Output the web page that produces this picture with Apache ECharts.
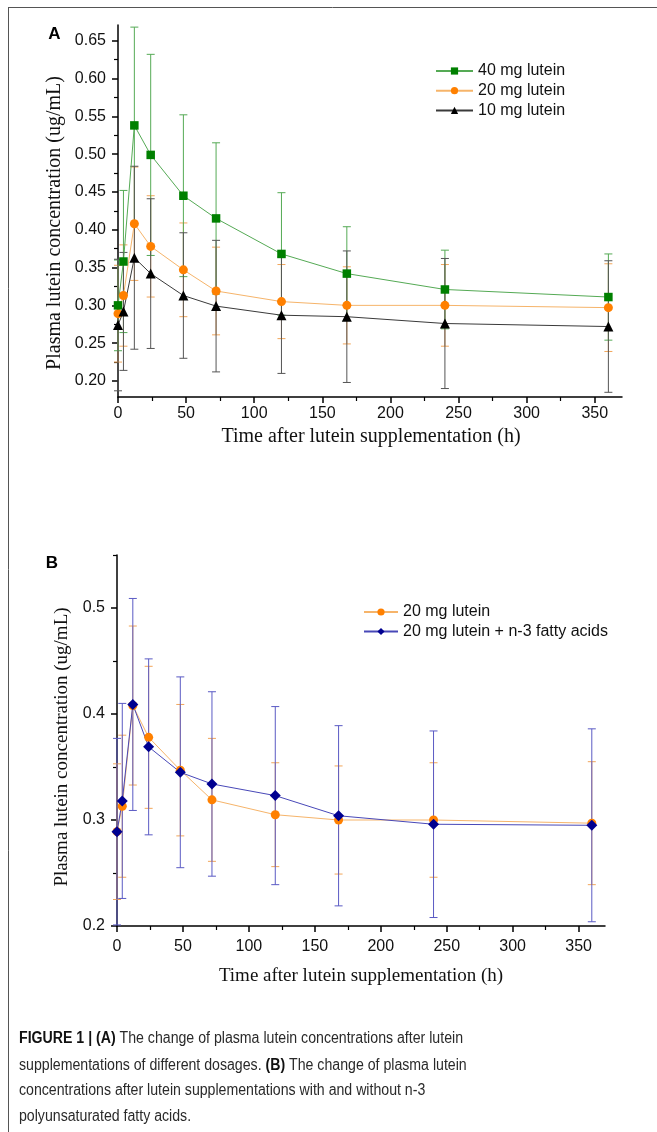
<!DOCTYPE html>
<html>
<head>
<meta charset="utf-8">
<script src="https://cdn.jsdelivr.net/npm/echarts@6/dist/echarts.min.js"></script>
<style>
html,body{margin:0;padding:0;background:#fff;}
#chart{width:657px;height:1132px;}
</style>
</head>
<body>
<div id="chart"></div>
<script>
// ---------- data ----------
var hours = [0, 4, 12, 24, 48, 72, 120, 168, 240, 360];

var lutein40 = [0.300, 0.358, 0.538, 0.499, 0.445, 0.415, 0.368, 0.342, 0.321, 0.311];
var lutein40Err = [0.060, 0.094, 0.130, 0.133, 0.107, 0.100, 0.081, 0.062, 0.052, 0.057];

var lutein20 = [0.289, 0.313, 0.408, 0.378, 0.347, 0.319, 0.305, 0.300, 0.300, 0.297];
var lutein20Err = [0.064, 0.067, 0.075, 0.067, 0.062, 0.058, 0.049, 0.051, 0.054, 0.058];

var lutein10 = [0.274, 0.292, 0.363, 0.342, 0.313, 0.299, 0.287, 0.285, 0.276, 0.272];
var lutein10Err = [0.087, 0.078, 0.121, 0.099, 0.083, 0.087, 0.077, 0.087, 0.086, 0.087];

var luteinN3 = [0.289, 0.318, 0.409, 0.369, 0.345, 0.334, 0.323, 0.304, 0.296, 0.295];
var luteinN3ErrUp = [0.088, 0.092, 0.100, 0.083, 0.090, 0.087, 0.084, 0.085, 0.088, 0.091];
var luteinN3ErrDown = [0.088, 0.092, 0.100, 0.083, 0.090, 0.087, 0.084, 0.085, 0.088, 0.091];

var xTicks = [0, 50, 100, 150, 200, 250, 300, 350];
var xMinorTicks = [25, 75, 125, 175, 225, 275, 325];
var yTicksA = [0.20, 0.25, 0.30, 0.35, 0.40, 0.45, 0.50, 0.55, 0.60, 0.65];
var yMinorTicksA = [0.225, 0.275, 0.325, 0.375, 0.425, 0.475, 0.525, 0.575, 0.625];
var yTicksB = [0.2, 0.3, 0.4, 0.5];
var yMinorTicksB = [0.25, 0.35, 0.45, 0.55];

var nameA = ['40 mg lutein', '20 mg lutein', '10 mg lutein'];
var nameB = ['20 mg lutein', '20 mg lutein + n-3 fatty acids'];
var yTitle = 'Plasma lutein concentration (ug/mL)';
var xTitle = 'Time after lutein supplementation (h)';
var captionLines = [
  '{b|FIGURE 1 | (A)} The change of plasma lutein concentrations after lutein',
  'supplementations of different dosages. {b|(B)} The change of plasma lutein',
  'concentrations after lutein supplementations with and without n-3',
  'polyunsaturated fatty acids.'
];

// ---------- helpers ----------
var SANS = '"Liberation Sans", Arial, sans-serif';
var SERIF = '"Liberation Serif", "Times New Roman", serif';

function pts(vals) { return hours.map(function (h, i) { return [h, vals[i]]; }); }
function errPts(vals, up, down) {
  return hours.map(function (h, i) { return [h, vals[i] - down[i], vals[i] + up[i]]; });
}
function errRender(color) {
  return function (params, api) {
    var x = api.value(0), lo = api.value(1), hi = api.value(2);
    var p1 = api.coord([x, hi]), p2 = api.coord([x, lo]);
    var w = 4;
    var st = { stroke: color, lineWidth: 1 };
    return {
      type: 'group',
      children: [
        { type: 'line', shape: { x1: p1[0], y1: p1[1], x2: p2[0], y2: p2[1] }, style: st },
        { type: 'line', shape: { x1: p1[0] - w, y1: p1[1], x2: p1[0] + w, y2: p1[1] }, style: st },
        { type: 'line', shape: { x1: p2[0] - w, y1: p2[1], x2: p2[0] + w, y2: p2[1] }, style: st }
      ]
    };
  };
}
function errSeries(data, color, xi, yi) {
  return {
    type: 'custom', xAxisIndex: xi, yAxisIndex: yi, data: data,
    encode: { x: 0, y: [1, 2] }, renderItem: errRender(color), clip: false, silent: true, z: 1
  };
}
function lineSeries(name, vals, lineColor, markColor, symbol, size, xi, yi) {
  return {
    type: 'line', name: name, xAxisIndex: xi, yAxisIndex: yi, data: pts(vals),
    symbol: symbol, symbolSize: size, showAllSymbol: true,
    lineStyle: { color: lineColor, width: 1 },
    itemStyle: { color: markColor, borderWidth: 0 },
    emphasis: { disabled: true }, animation: false, z: 3
  };
}
function majorX(grid, margin) {
  return {
    type: 'value', gridIndex: grid, min: 0, max: 370, position: 'bottom',
    axisLine: { onZero: false, lineStyle: { color: '#000', width: 1.5 } },
    axisTick: { customValues: xTicks, length: 6, lineStyle: { color: '#000', width: 1.5 } },
    axisLabel: { customValues: xTicks, margin: margin, fontSize: 16, color: '#111', fontFamily: SANS },
    splitLine: { show: false }
  };
}
function minorX(grid) {
  return {
    type: 'value', gridIndex: grid, min: 0, max: 370, position: 'bottom',
    axisLine: { show: false, onZero: false },
    axisTick: { customValues: xMinorTicks, length: 4, lineStyle: { color: '#000', width: 1.2 } },
    axisLabel: { show: false }, splitLine: { show: false }
  };
}
function majorY(grid, min, max, ticks, dec) {
  return {
    type: 'value', gridIndex: grid, min: min, max: max, position: 'left',
    axisLine: { show: true, onZero: false, lineStyle: { color: '#000', width: 1.5 } },
    axisTick: { show: true, customValues: ticks, length: 6, lineStyle: { color: '#000', width: 1.5 } },
    axisLabel: {
      customValues: ticks, margin: 12, fontSize: 16, color: '#111', fontFamily: SANS,
      formatter: function (v) { return v.toFixed(dec); }
    },
    splitLine: { show: false }
  };
}
function minorY(grid, min, max, ticks) {
  return {
    type: 'value', gridIndex: grid, min: min, max: max, position: 'left',
    axisLine: { show: false, onZero: false },
    axisTick: { show: true, customValues: ticks, length: 4, lineStyle: { color: '#000', width: 1.2 } },
    axisLabel: { show: false }, splitLine: { show: false }
  };
}

var GREEN_L = '#55aa55', GREEN_M = '#008000';
var ORANGE_L = '#f6b46a', ORANGE_M = '#ff8000', ORANGE_E = '#f2a65a';
var BLACK_L = '#3a3a3a', BLACK_M = '#000000', BLACK_E = '#555555';
var BLUE_L = '#4848b8', BLUE_M = '#000090', BLUE_E = '#5a5ac4';

var chart = echarts.init(document.getElementById('chart'), null, { renderer: 'canvas' });

var option = {
  animation: false,
  backgroundColor: '#fff',
  grid: [
    { left: 118, top: 25, width: 504, height: 372 },
    { left: 117, top: 555, width: 488, height: 371 }
  ],
  xAxis: [majorX(0, 9), minorX(0), majorX(1, 13), minorX(1)],
  yAxis: [
    majorY(0, 0.1788, 0.6708, yTicksA, 2), minorY(0, 0.1788, 0.6708, yMinorTicksA),
    majorY(1, 0.2, 0.55, yTicksB, 1), minorY(1, 0.2, 0.55, yMinorTicksB)
  ],
  legend: [
    {
      orient: 'vertical', left: 435, top: 63, padding: 0, itemWidth: 37, itemHeight: 9, itemGap: 3.7,
      textStyle: { fontSize: 16, color: '#111', fontFamily: SANS },
      data: nameA, selectedMode: false
    },
    {
      orient: 'vertical', left: 363, top: 604, padding: 0, itemWidth: 34, itemHeight: 9, itemGap: 3.5,
      textStyle: { fontSize: 16, color: '#111', fontFamily: SANS },
      data: nameB, selectedMode: false
    }
  ],
  series: [
    errSeries(errPts(lutein20, lutein20Err, lutein20Err), ORANGE_E, 0, 0),
    errSeries(errPts(lutein40, lutein40Err, lutein40Err), GREEN_L, 0, 0),
    errSeries(errPts(lutein10, lutein10Err, lutein10Err), BLACK_E, 0, 0),
    lineSeries(nameA[1], lutein20, ORANGE_L, ORANGE_M, 'circle', 9, 0, 0),
    lineSeries(nameA[0], lutein40, GREEN_L, GREEN_M, 'rect', 8.5, 0, 0),
    lineSeries(nameA[2], lutein10, BLACK_L, BLACK_M, 'triangle', 10, 0, 0),

    errSeries(errPts(lutein20, lutein20Err, lutein20Err), ORANGE_E, 2, 2),
    errSeries(errPts(luteinN3, luteinN3ErrUp, luteinN3ErrDown), BLUE_E, 2, 2),
    lineSeries(nameB[0], lutein20, ORANGE_L, ORANGE_M, 'circle', 9, 2, 2),
    lineSeries(nameB[1], luteinN3, BLUE_L, BLUE_M, 'diamond', 11, 2, 2)
  ],
  graphic: [
    { type: 'line', shape: { x1: 8, y1: 7.5, x2: 657, y2: 7.5 }, style: { stroke: '#555', lineWidth: 1 }, silent: true },
    { type: 'line', shape: { x1: 8.5, y1: 7, x2: 8.5, y2: 1132 }, style: { stroke: '#555', lineWidth: 1 }, silent: true },
    { type: 'text', x: 54.5, y: 34, style: { text: 'A', font: 'bold 17px ' + SANS, fill: '#000', align: 'center', verticalAlign: 'middle' } },
    { type: 'text', x: 52, y: 563, style: { text: 'B', font: 'bold 17px ' + SANS, fill: '#000', align: 'center', verticalAlign: 'middle' } },
    { type: 'text', x: 55, y: 223, rotation: Math.PI / 2, style: { text: yTitle, font: '20px ' + SERIF, fill: '#111', align: 'center', verticalAlign: 'middle' } },
    { type: 'text', x: 62, y: 747, rotation: Math.PI / 2, style: { text: yTitle, font: '19px ' + SERIF, fill: '#111', align: 'center', verticalAlign: 'middle' } },
    { type: 'text', x: 371, y: 437, style: { text: xTitle, font: '20px ' + SERIF, fill: '#111', align: 'center', verticalAlign: 'middle' } },
    { type: 'text', x: 361, y: 976, style: { text: xTitle, font: '19px ' + SERIF, fill: '#111', align: 'center', verticalAlign: 'middle' } }
  ]
};

// caption: Liberation Sans compressed horizontally to the reference's narrow face
var CAP_FONT = '"Liberation Sans", Arial, sans-serif';
var measureCtx = document.createElement('canvas').getContext('2d');
function lineWidth(t) {
  var w = 0, re = /\{b\|([^}]*)\}/g, last = 0, m;
  while ((m = re.exec(t)) !== null) {
    measureCtx.font = '16px ' + CAP_FONT;
    w += measureCtx.measureText(t.slice(last, m.index)).width;
    measureCtx.font = 'bold 16px ' + CAP_FONT;
    w += measureCtx.measureText(m[1]).width;
    last = re.lastIndex;
  }
  measureCtx.font = '16px ' + CAP_FONT;
  w += measureCtx.measureText(t.slice(last)).width;
  return w;
}
var capScale = 444 / lineWidth(captionLines[0]);
var capY = [1039, 1066, 1091, 1117];
captionLines.forEach(function (t, i) {
  option.graphic.push({
    type: 'text', x: 19, y: capY[i], scaleX: capScale,
    style: {
      text: t, fontSize: 16, fontFamily: CAP_FONT,
      fill: '#2a2a2a', align: 'left', verticalAlign: 'middle',
      rich: { b: { fontWeight: 'bold', fontSize: 16, fontFamily: CAP_FONT, fill: '#111' } }
    }
  });
});

chart.setOption(option);
</script>
</body>
</html>
